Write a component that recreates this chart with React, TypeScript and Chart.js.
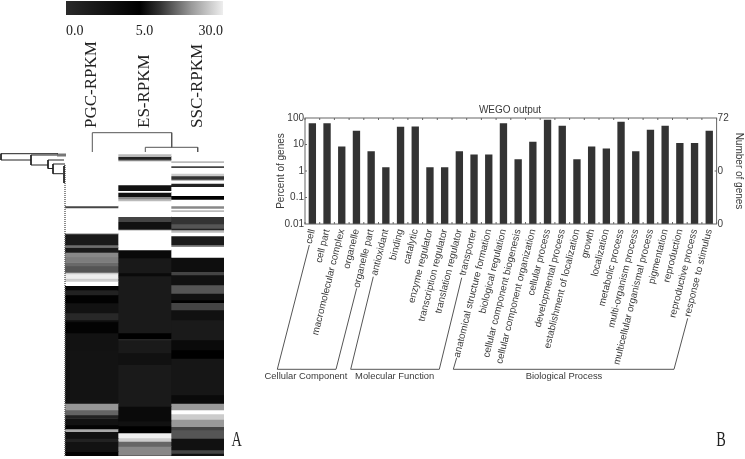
import React, { useEffect, useRef } from "react";
import { Chart, registerables } from "chart.js";

Chart.register(...registerables);

// ---------- Panel B: WEGO ----------
const goTerms = [
  "cell", "cell part", "macromolecular complex", "organelle", "organelle part", "antioxidant",
  "binding", "catalytic", "enzyme regulator", "transcription regulator", "translation regulator",
  "transporter", "anatomical structure formation", "biological regulation",
  "cellular component biogenesis", "cellular component organization", "cellular process",
  "developmental process", "establishment of localization", "growth", "localization",
  "metabolic process", "multi-organism process", "multicellular organismal process",
  "pigmentation", "reproduction", "reproductive process", "response to stimulus",
];
const percentOfGenes = [
  62.8, 62.8, 8.45, 33, 5.6, 1.4, 47, 48, 1.4, 1.4, 5.6, 4.2, 4.2, 62.8,
  2.8, 12.7, 86.5, 51, 2.8, 8.45, 7.1, 72.6, 5.6, 36, 51, 11.3, 11.3, 33,
];
const percentTickLabels = ["0.01", "0.1", "1", "10", "100"];
const numberTickLabels = ["0", "", "0", "", "72"];

// ---------- Panel A: heat map, [band thickness, grey level] from the top ----------
const heatColumns = ["PGC-RPKM", "ES-RPKM", "SSC-RPKM"];
const pgcBands = [
  [54, 255], [2, 70], [25, 255], [1, 170], [11, 26], [2.5, 110], [5, 26], [4.5, 136], [5.5, 125],
  [3.5, 105], [6.5, 85], [1.5, 200], [4.5, 238], [3, 205], [4.2, 255], [4.8, 5], [4.5, 34], [8, 2],
  [10, 18], [7, 40], [2, 15], [11, 3], [17, 18], [53.3, 19], [6.7, 150], [5, 100], [3.5, 34],
  [6.5, 18], [4, 4], [2.7, 170], [6.7, 18], [3.3, 34], [10, 18], [4.3, 3],
];
const esBands = [
  [2, 255], [2.7, 187], [2.6, 34], [1.7, 136], [24, 255], [5.7, 17], [1.6, 255], [4.4, 17], [2.3, 136],
  [2, 187], [15.7, 255], [5, 68], [7.3, 17], [1, 85], [20, 255], [8, 10], [15, 25], [3, 10], [57, 26],
  [6, 0], [1, 51], [13, 26], [11.7, 17], [41.6, 26], [14.7, 10], [5, 17], [7, 0], [5, 240], [3.3, 204],
  [5, 102], [8.4, 136], [4.3, 102],
];
const sscBands = [
  [9, 255], [1.7, 187], [3.3, 255], [1.7, 68], [5.6, 255], [2.7, 204], [3.3, 51], [1.4, 187], [2.6, 255],
  [3.4, 34], [9, 255], [3.6, 0], [6.7, 255], [2.3, 136], [1.7, 255], [1.7, 187], [5, 255], [7.3, 51],
  [4.3, 85], [1.7, 34], [2.3, 187], [3.7, 255], [9, 26], [1.7, 136], [10.6, 255], [14.4, 14], [3.3, 68],
  [10, 17], [8.3, 85], [6.7, 17], [2.6, 0], [7.4, 68], [10, 17], [20, 26], [10, 10], [8.3, 0], [36.7, 22],
  [8.3, 10], [6.7, 153], [4, 255], [5.3, 204], [7.4, 153], [3.3, 68], [8.3, 85], [11.7, 17], [3.3, 68], [2.7, 17],
];
const colorbarLabels = ["0.0", "5.0", "30.0"];

// ---------- Dendrograms and group brackets, in page units ----------
const rowTreeLines = [
  [[58, 153.7], [1, 153.7], [1, 160], [31, 160]],
  [[57, 155], [31, 155], [31, 165], [48, 165]],
  [[64, 160], [48, 160], [48, 168.5], [53, 168.5]],
  [[65, 164], [53, 164], [53, 173.7], [63, 173.7]],
  [[65, 166], [64, 166], [64, 183]],
];
const columnTreeLines = [
  [[92.3, 152], [92.3, 132.7], [171.7, 132.7], [171.7, 147.3]],
  [[145.3, 152], [145.3, 147.3], [197.7, 147.3], [197.7, 152]],
];
const bracketLines = [
  [[309.3, 245], [277.3, 369.3], [336, 369.3], [356.7, 288.3]],
  [[373.3, 276.7], [350.7, 369.3], [439.3, 369.3], [461.7, 277.7]],
  [[456.7, 357.7], [453.3, 369.3], [674, 369.3], [687.7, 318.3]],
];
const rowTreeStub = [[57, 155], [66, 155]];
const rowTreeSpine = [[65, 165], [65, 456]];
const groupLabels = [
  { text: "Cellular Component", x: 306, y: 376.7 },
  { text: "Molecular Function", x: 394.7, y: 376.7 },
  { text: "Biological Process", x: 564, y: 376.7 },
];
const panelLabels = [
  { text: "A", x: 236.7, y: 440 },
  { text: "B", x: 721, y: 440 },
];

const toPoints = (line: number[][]) => line.map(([x, y]) => ({ x, y }));
const grey = (g: number) => `rgb(${g},${g},${g})`;

export default function App() {
  const barRef = useRef<HTMLCanvasElement>(null);
  const heatRef = useRef<HTMLCanvasElement>(null);
  const cbRef = useRef<HTMLCanvasElement>(null);
  const overlayRef = useRef<HTMLCanvasElement>(null);

  useEffect(() => {
    const sans = "'Liberation Sans', Arial, sans-serif";
    const serif = "'Liberation Serif', serif";
    const inkB = "#3a3a3a";

    const decade = (v: number) => {
      const l = Math.log10(v);
      return Math.abs(l - Math.round(l)) < 1e-6 ? Math.round(l) + 2 : -1;
    };

    const framePlugin = {
      id: "frame",
      afterDatasetsDraw(chart: any) {
        const { ctx, chartArea: a, scales } = chart;
        ctx.save();
        ctx.strokeStyle = "#666";
        ctx.lineWidth = 1;
        ctx.strokeRect(a.left, a.top, a.width, a.height);
        ctx.beginPath();
        const xs = scales.x;
        for (let i = 0; i <= goTerms.length; i++) {
          const px = xs.getPixelForValue(i) - (xs.getPixelForValue(1) - xs.getPixelForValue(0)) / 2;
          ctx.moveTo(px, a.top);
          ctx.lineTo(px, a.top + 2);
          ctx.moveTo(px, a.bottom);
          ctx.lineTo(px, a.bottom - 2);
        }
        [0.1, 1, 10].forEach((v) => {
          const py = scales.y.getPixelForValue(v);
          ctx.moveTo(a.left, py);
          ctx.lineTo(a.left + 2, py);
        });
        const mid = scales.y1.getPixelForValue(1);
        ctx.moveTo(a.right, mid);
        ctx.lineTo(a.right - 2, mid);
        ctx.stroke();
        ctx.restore();
      },
    };

    const bar = new Chart(barRef.current!, {
      type: "bar",
      data: {
        labels: goTerms,
        datasets: [
          {
            data: percentOfGenes,
            backgroundColor: "#333333",
            barPercentage: 0.5,
            categoryPercentage: 1,
            yAxisID: "y",
          },
        ],
      },
      options: {
        responsive: false,
        animation: false,
        layout: { padding: 0 },
        plugins: {
          legend: { display: false },
          tooltip: { enabled: false },
          title: {
            display: true,
            text: "WEGO output",
            color: inkB,
            font: { family: sans, size: 10, weight: "normal" },
            padding: { top: 9, bottom: 2 },
          },
        },
        scales: {
          x: {
            type: "category",
            grid: { display: false, drawTicks: false },
            border: { display: false },
            afterFit: (s: any) => { s.height = 235; s.paddingLeft = 0; s.paddingRight = 0; },
            ticks: {
              autoSkip: false,
              minRotation: 76,
              maxRotation: 76,
              padding: 4,
              color: inkB,
              font: { family: sans, size: 9.8 },
            },
          },
          y: {
            type: "logarithmic",
            position: "left",
            min: 0.01,
            max: 100,
            grid: { display: false, drawTicks: false },
            border: { display: false },
            afterFit: (s: any) => { s.width = 30; },
            title: {
              display: true,
              text: "Percent of genes",
              color: inkB,
              padding: 0,
              font: { family: sans, size: 10 },
            },
            ticks: {
              autoSkip: false,
              padding: 1,
              color: inkB,
              font: { family: sans, size: 10 },
              callback: (v: any) => {
                const d = decade(Number(v));
                return d >= 0 ? percentTickLabels[d] : null;
              },
            },
          },
          y1: {
            type: "logarithmic",
            position: "right",
            min: 0.01,
            max: 100,
            grid: { display: false, drawTicks: false },
            border: { display: false },
            afterFit: (s: any) => { s.width = 28.4; },
            title: {
              display: true,
              text: "Number of genes",
              color: inkB,
              padding: 0,
              font: { family: sans, size: 10 },
            },
            ticks: {
              autoSkip: false,
              padding: 1,
              color: inkB,
              font: { family: sans, size: 10 },
              callback: (v: any) => {
                const d = decade(Number(v));
                return d >= 0 && numberTickLabels[d] ? numberTickLabels[d] : null;
              },
            },
          },
        },
      },
      plugins: [framePlugin],
    } as any);

    const bandDatasets = [pgcBands, esBands, sscBands].flatMap((bands, col) =>
      bands.map(([t, g]) => ({
        data: heatColumns.map((_, i) => (i === col ? t : null)),
        backgroundColor: grey(g),
        borderWidth: 0,
        barPercentage: 1,
        categoryPercentage: 1,
      }))
    );
    const heat = new Chart(heatRef.current!, {
      type: "bar",
      data: { labels: heatColumns, datasets: bandDatasets },
      options: {
        responsive: false,
        animation: false,
        layout: { padding: 0 },
        plugins: { legend: { display: false }, tooltip: { enabled: false } },
        scales: {
          x: {
            stacked: true,
            position: "top",
            grid: { display: false, drawTicks: false },
            border: { display: false },
            afterFit: (s: any) => { s.height = 132; s.paddingLeft = 0; s.paddingRight = 0; },
            ticks: {
              minRotation: 90,
              maxRotation: 90,
              padding: 24,
              labelOffset: 20,
              autoSkip: false,
              color: "#222",
              font: { family: serif, size: 17 },
            },
          },
          y: { stacked: true, display: false, reverse: true, min: 0, max: 304 },
        },
      },
    } as any);

    const cb = new Chart(cbRef.current!, {
      type: "bar",
      data: {
        labels: ["scale"],
        datasets: [
          {
            data: [2],
            barPercentage: 1,
            categoryPercentage: 1,
            backgroundColor: (c: any) => {
              const a = c.chart.chartArea;
              if (!a) return "#000";
              const g = c.chart.ctx.createLinearGradient(a.left, 0, a.right, 0);
              g.addColorStop(0, "#2a2a2a");
              g.addColorStop(0.15, "#1c1c1c");
              g.addColorStop(0.47, "#000000");
              g.addColorStop(0.6, "#333333");
              g.addColorStop(0.8, "#9a9a9a");
              g.addColorStop(1, "#eeeeee");
              return g;
            },
          },
        ],
      },
      options: {
        indexAxis: "y",
        responsive: false,
        animation: false,
        layout: { padding: { left: 26, right: 27, top: 1, bottom: 0 } },
        plugins: { legend: { display: false }, tooltip: { enabled: false } },
        scales: {
          y: { display: false },
          x: {
            min: 0,
            max: 2,
            grid: { display: false, drawTicks: false },
            border: { display: false },
            afterFit: (s: any) => { s.height = 29; s.paddingLeft = 0; s.paddingRight = 0; },
            ticks: {
              stepSize: 1,
              align: "inner",
              padding: 8,
              color: "#222",
              font: { family: serif, size: 14 },
              callback: (v: any) => colorbarLabels[Number(v)],
            },
          },
        },
      },
    } as any);

    const textPlugin = {
      id: "figureText",
      afterDatasetsDraw(chart: any) {
        const { ctx, scales } = chart;
        ctx.save();
        ctx.textAlign = "center";
        ctx.textBaseline = "middle";
        ctx.fillStyle = inkB;
        ctx.font = `9.4px ${sans}`;
        groupLabels.forEach((l) =>
          ctx.fillText(l.text, scales.x.getPixelForValue(l.x), scales.y.getPixelForValue(l.y))
        );
        ctx.fillStyle = "#222";
        ctx.font = `22px ${serif}`;
        panelLabels.forEach((l) => {
          ctx.save();
          ctx.translate(scales.x.getPixelForValue(l.x), scales.y.getPixelForValue(l.y));
          ctx.scale(0.65, 1);
          ctx.fillText(l.text, 0, 0);
          ctx.restore();
        });
        ctx.restore();
      },
    };
    const lineSet = (line: number[][], color: string, width: number, dash: number[] = []) => ({
      data: toPoints(line),
      showLine: true,
      pointRadius: 0,
      borderColor: color,
      borderWidth: width,
      borderDash: dash,
      tension: 0,
    });
    const overlay = new Chart(overlayRef.current!, {
      type: "scatter",
      data: {
        datasets: [
          ...rowTreeLines.map((l) => lineSet(l, "#222", 1)),
          ...columnTreeLines.map((l) => lineSet(l, "#555", 1)),
          ...bracketLines.map((l) => lineSet(l, "#555", 1)),
          lineSet(rowTreeStub, "#777", 3),
          lineSet(rowTreeSpine, "#666", 1.5, [1, 1]),
        ],
      },
      options: {
        responsive: false,
        animation: false,
        layout: { padding: 0 },
        plugins: { legend: { display: false }, tooltip: { enabled: false } },
        scales: {
          x: { type: "linear", display: false, min: 0, max: 745 },
          y: { type: "linear", display: false, reverse: true, min: 0, max: 459 },
        },
      },
      plugins: [textPlugin],
    } as any);

    return () => {
      bar.destroy();
      heat.destroy();
      cb.destroy();
      overlay.destroy();
    };
  }, []);

  const abs = (left: number, top: number): React.CSSProperties => ({ position: "absolute", left, top });
  return (
    <div style={{ position: "absolute", left: 0, top: 0, width: 745, height: 459, background: "#fff", overflow: "hidden" }}>
      <canvas ref={cbRef} width={210} height={44} style={abs(40, 0)} />
      <canvas ref={heatRef} width={159} height={436} style={abs(65, 20)} />
      <canvas ref={barRef} width={470} height={364} style={abs(275, 95)} />
      <canvas ref={overlayRef} width={745} height={459} style={{ ...abs(0, 0), pointerEvents: "none" }} />
    </div>
  );
}
